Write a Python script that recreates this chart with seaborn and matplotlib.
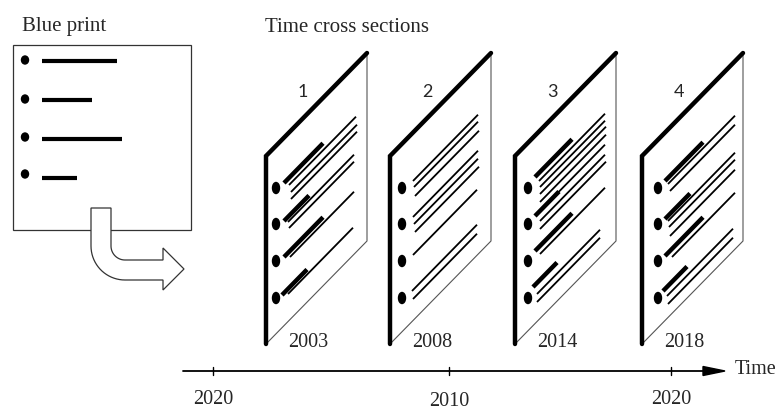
import numpy as np
import seaborn as sns
import matplotlib.pyplot as plt
from matplotlib.patches import Ellipse, Polygon, Rectangle

sns.set_theme(style='white')
plt.rcParams['font.family'] = ['Liberation Serif', 'DejaVu Serif']

# texts
blueprint_title = 'Blue print'
sections_title = 'Time cross sections'
section_numbers = ['1', '2', '3', '4']
section_years = ['2003', '2008', '2014', '2018']
timeline_labels = ['2020', '2010', '2020']
timeline_label_y = [400, 402, 400]

# blue print sheet (pixel space, y down)
bp_bullet_y = [61, 100, 138, 175]
bp_line_y = [62, 101, 140, 179]
bp_line_end = [117, 92, 122, 77]

# time cross section pages
page_left = [266, 390, 515, 642]
page_bullet_dx = [10, 12, 13, 16]
page_bullet_y = [189, 225, 262, 299]
# each line: start dx from page left, start y, length along x, thick?
page_lines = [
    [(18, 184, 39, 1), (23, 186, 67, 0), (25, 193, 66, 0), (25, 200, 66, 0),
     (18, 222, 25, 1), (22, 223, 66, 0), (23, 229, 65, 0),
     (18, 258, 39, 1), (24, 258, 64, 0),
     (16, 296, 25, 1), (22, 295, 65, 0)],
    [(23, 182, 65, 0), (24, 188, 64, 0), (25, 197, 64, 0),
     (23, 218, 65, 0), (24, 225, 64, 0), (25, 233, 64, 0),
     (23, 256, 64, 0),
     (22, 292, 65, 0), (23, 300, 64, 0)],
    [(20, 178, 37, 1), (24, 182, 66, 0), (25, 188, 65, 0), (25, 195, 66, 0), (25, 203, 66, 0),
     (20, 217, 24, 1), (24, 213, 66, 0), (25, 222, 65, 0), (25, 230, 66, 0),
     (20, 252, 37, 1), (25, 255, 65, 0),
     (18, 288, 24, 1), (22, 295, 63, 0), (22, 303, 63, 0)],
    [(23, 182, 38, 1), (26, 185, 67, 0), (28, 192, 65, 0),
     (23, 220, 25, 1), (26, 222, 67, 0), (27, 228, 66, 0), (28, 237, 65, 0),
     (23, 257, 38, 1), (30, 258, 63, 0),
     (21, 292, 24, 1), (25, 297, 66, 0), (26, 305, 65, 0)],
]
page_width = 101
page_top = 157
page_bottom = 345
slope = 103 / 101

# timeline
tick_x = [213, 449, 671]
axis_y = 372

fig = plt.figure(figsize=(7.81, 4.14), dpi=100)
ax = fig.add_axes([0, 0, 1, 1])
ax.set_xlim(0, 781)
ax.set_ylim(414, 0)
ax.axis('off')

# blue print box
ax.add_patch(Rectangle((13, 46), 178, 185, fill=False, ec='#333333', lw=0.9))
ax.text(22, 27, blueprint_title, fontsize=15, ha='left', va='center')
for by, ly, le in zip(bp_bullet_y, bp_line_y, bp_line_end):
    ax.add_patch(Ellipse((25, by), 7, 8, color='black'))
    ax.plot([42, le], [ly, ly], color='black', lw=3, solid_capstyle='butt')

# bent arrow
cx, cy = 125, 247
th_in = np.linspace(np.pi, np.pi / 2, 20)
th_out = np.linspace(np.pi / 2, np.pi, 20)
pts = [(91, 209), (111, 209)]
pts += list(zip(cx + 14 * np.cos(th_in), cy + 14 * np.sin(th_in)))
pts += [(163, 261), (163, 249), (184, 270), (163, 291), (163, 281)]
pts += list(zip(cx + 34 * np.cos(th_out), cy + 34 * np.sin(th_out)))
ax.add_patch(Polygon(pts, closed=True, fc='white', ec='#333333', lw=0.9, zorder=3))

ax.text(265, 27, sections_title, fontsize=15, ha='left', va='center')

for i, x0 in enumerate(page_left):
    x1 = x0 + page_width
    dy = page_width * slope
    # thin right and bottom edges
    ax.plot([x1, x1, x0], [page_top - dy, page_bottom - dy, page_bottom],
            color='#555555', lw=0.8)
    # thick left and top edges
    ax.plot([x0, x0, x1], [page_bottom, page_top, page_top - dy],
            color='black', lw=3.2, solid_joinstyle='miter')
    for by in page_bullet_y:
        ax.add_patch(Ellipse((x0 + page_bullet_dx[i], by), 7, 11, color='black'))
    for sx, sy, length, thick in page_lines[i]:
        xs = x0 + sx
        ax.plot([xs, xs + length], [sy, sy - length * slope], color='black',
                lw=3.2 if thick else 1.3, solid_capstyle='butt')
    ax.text(x0 + 37, 92, section_numbers[i], fontsize=13, family='Lato',
            ha='center', va='center')
    ax.text(x0 + 42, 343, section_years[i], fontsize=14.5, ha='center', va='center')

# time axis
ax.plot([183, 705], [axis_y, axis_y], color='black', lw=1.3)
ax.add_patch(Polygon([(703, axis_y - 4.5), (725, axis_y), (703, axis_y + 4.5)],
                     closed=True, color='black'))
for tx, lab, ly in zip(tick_x, timeline_labels, timeline_label_y):
    ax.plot([tx, tx], [axis_y - 4, axis_y + 4], color='black', lw=1)
    ax.text(tx, ly, lab, fontsize=14.5, ha='center', va='center')
ax.text(735, 370, 'Time', fontsize=14.5, ha='left', va='center')

fig.savefig('out.png', dpi=100)
